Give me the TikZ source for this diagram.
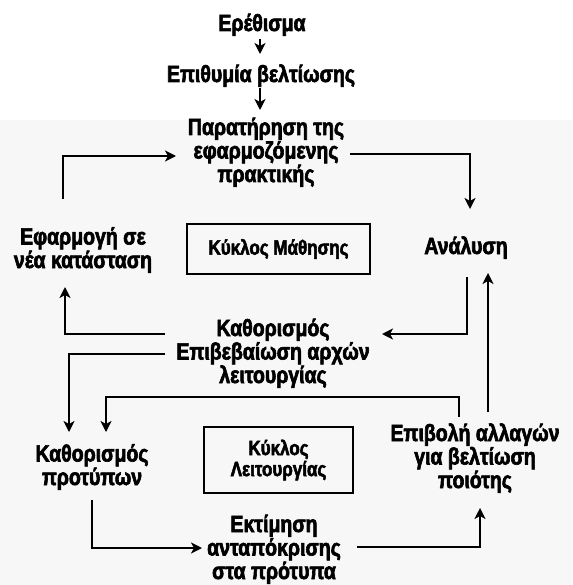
\documentclass[tikz,border=0pt]{standalone}
\usepackage{fontspec}
\setmainfont{Liberation Sans}[FakeStretch=0.83, BoldFeatures={FakeBold=2.6}]
\usetikzlibrary{arrows.meta}
\begin{document}
\begin{tikzpicture}[x=1pt,y=-1pt,
  lbl/.style={font=\fontsize{23.5}{23.5}\selectfont\bfseries, align=center, inner sep=0pt, anchor=base},
  boxlbl/.style={font=\fontsize{20.5}{21}\selectfont\bfseries, align=center},
  cyc/.style={draw, line width=1.3pt, inner sep=0pt},
  conn/.style={line width=1.7pt},
  arr/.style={conn, -{Stealth[length=11pt,width=11pt,inset=3pt]}}]
\useasboundingbox (0,0) rectangle (572,585);
\fill[black!3] (0,120) rectangle (572,585);

\node[lbl] (stim) at (262,31) {Ερέθισμα};
\node[lbl] (wish) at (261,82) {Επιθυμία βελτίωσης};
\node[lbl] (obs) at (266,182) {Παρατήρηση της\\εφαρμοζόμενης\\πρακτικής};
\node[lbl] (anal) at (466,254) {Ανάλυση};
\node[lbl] (appl) at (83,268) {Εφαρμογή σε\\νέα κατάσταση};
\node[lbl] (princ) at (273,383) {Καθορισμός\\Επιβεβαίωση αρχών\\λειτουργίας};
\node[lbl] (std) at (92,485) {Καθορισμός\\προτύπων};
\node[lbl] (eval) at (274,579) {Εκτίμηση\\ανταπόκρισης\\στα πρότυπα};
\node[lbl] (impose) at (475,488) {Επιβολή αλλαγών\\για βελτίωση\\ποιότης};

\node[cyc, boxlbl, minimum width=183pt, minimum height=50pt] (learn) at (278.5,249) {Κύκλος Μάθησης};
\node[cyc, boxlbl, minimum width=149pt, minimum height=66pt] (oper) at (278.5,460) {Κύκλος\\Λειτουργίας};

\coordinate (a1s) at (260,39);  \coordinate (a1e) at (260,54);
\coordinate (a2s) at (260,88);  \coordinate (a2e) at (260,110);
\coordinate (tl1) at (63,199);  \coordinate (tl2) at (63,156);  \coordinate (tl3) at (176,156);
\coordinate (tr1) at (350,154); \coordinate (tr2) at (470,154); \coordinate (tr3) at (470,209);
\coordinate (ad1) at (467,277); \coordinate (ad2) at (467,334); \coordinate (ad3) at (382,334);
\coordinate (up1) at (488,412); \coordinate (up2) at (488,273);
\coordinate (lu1) at (165,334); \coordinate (lu2) at (65,334);  \coordinate (lu3) at (65,287);
\coordinate (ld1) at (165,354); \coordinate (ld2) at (69,354);  \coordinate (ld3) at (69,432);
\coordinate (md1) at (459,417); \coordinate (md2) at (459,397); \coordinate (md3) at (106,397); \coordinate (md4) at (106,432);
\coordinate (bl1) at (92,500);  \coordinate (bl2) at (92,548);  \coordinate (bl3) at (202,548);
\coordinate (br1) at (357,547); \coordinate (br2) at (480,547); \coordinate (br3) at (480,508);

\draw[arr] (a1s) -- (a1e);
\draw[arr] (a2s) -- (a2e);
\draw[arr] (tl1) -- (tl2) -- (tl3);
\draw[arr] (tr1) -- (tr2) -- (tr3);
\draw[arr] (ad1) -- (ad2) -- (ad3);
\draw[arr] (up1) -- (up2);
\draw[arr] (lu1) -- (lu2) -- (lu3);
\draw[arr] (ld1) -- (ld2) -- (ld3);
\draw[arr] (md1) -- (md2) -- (md3) -- (md4);
\draw[arr] (bl1) -- (bl2) -- (bl3);
\draw[arr] (br1) -- (br2) -- (br3);
\end{tikzpicture}
\end{document}
